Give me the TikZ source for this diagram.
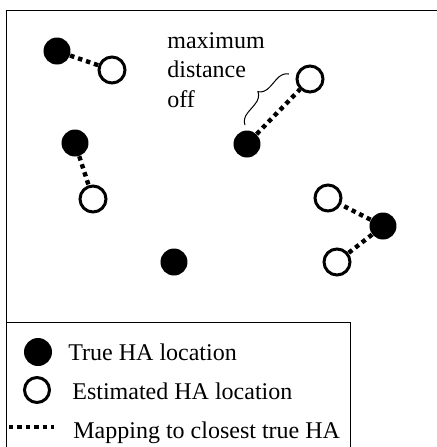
\documentclass[tikz,border=0pt]{standalone}
\usepackage{fontspec}
\setmainfont{Liberation Serif}
\usetikzlibrary{decorations.pathreplacing}
\tikzset{
	truepos/.style={circle,fill,inner sep=0pt,minimum size=13.5pt},
	estpos/.style={circle,draw,line width=1.5pt,inner sep=0pt,minimum size=13pt},
	mapline/.style={line width=2.2pt,dash pattern=on 2.2pt off 2pt},
	legtext/.style={anchor=base west,inner sep=0pt,font=\fontsize{12}{14.75}\selectfont},
}
\begin{document}
\begin{tikzpicture}[x=0.5pt,y=-0.5pt]
		\useasboundingbox (0,0) rectangle (437,447);
		\draw [line width=0.5pt] (437,10)--(7,10)--(7,447);
		% true locations
		\node [truepos] (t1) at (57,51) {};
		\node [truepos] (t2) at (75,143) {};
		\node [truepos] (t3) at (247,144) {};
		\node [truepos] (t4) at (174,262) {};
		\node [truepos] (t5) at (383,226) {};
		% estimated locations
		\node [estpos] (e1) at (112,70) {};
		\node [estpos] (e2) at (310,79) {};
		\node [estpos] (e3) at (93,199) {};
		\node [estpos] (e4) at (328,198) {};
		\node [estpos] (e5) at (337,262) {};
		% mappings
		\draw [mapline] (t1)--(e1);
		\draw [mapline] (t2)--(e3);
		\draw [mapline] (t3)--(e2);
		\draw [mapline] (t5)--(e4);
		\draw [mapline] (t5)--(e5);
		\node [legtext,align=left] (maxtxt) at (167,107) {maximum\\distance\\off};
		\coordinate (br1) at (245,125);
		\coordinate (br2) at (289,74);
		\draw [line width=0.5pt,decorate,decoration={brace,amplitude=6pt}] (br1)--(br2);
		% legend
		\draw [line width=0.5pt] (7,322)--(351,322)--(351,447);
		\node [truepos,minimum size=14pt] (legtrue) at (38,352) {};
		\node [estpos,minimum size=12.5pt] (legest) at (37,390) {};
		\coordinate (legm1) at (9,427);
		\coordinate (legm2) at (54,427);
		\draw [mapline] (legm1)--(legm2);
		\node [legtext] at (68,360) {True HA location};
		\node [legtext] at (72,399) {Estimated HA location};
		\node [legtext] at (73,438) {Mapping to closest true HA};
\end{tikzpicture}
\end{document}
